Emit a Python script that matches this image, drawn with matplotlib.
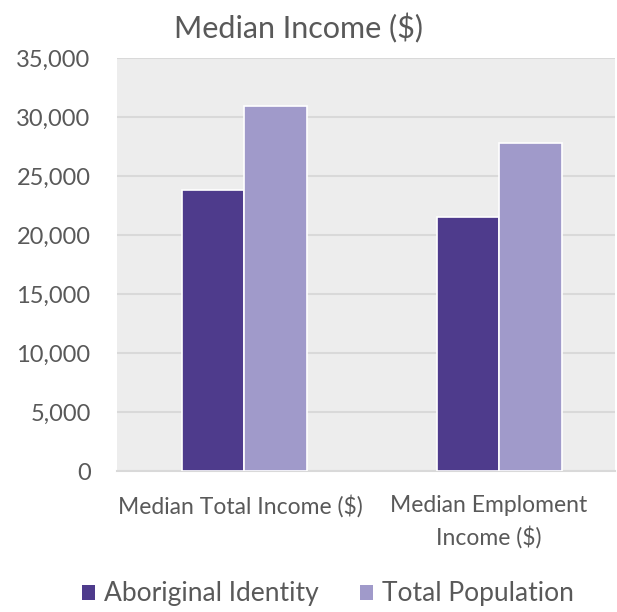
import matplotlib
matplotlib.use("Agg")
import matplotlib.pyplot as plt
import matplotlib.transforms as mtransforms
import numpy as np
from matplotlib.ticker import FuncFormatter
from matplotlib.patches import Patch

categories = ["Median Total Income ($)", "Median Emploment\nIncome ($)"]
series_names = ["Aboriginal Identity", "Total Population"]
aboriginal = [23800, 21500]
total_pop = [30900, 27800]
colors = ["#4e3b8c", "#a09aca"]

plt.rcParams['font.family'] = ['Lato', 'DejaVu Sans']
txt = "#595959"

fig = plt.figure(figsize=(6.17, 6.12), dpi=100)
ax = fig.add_axes([117/617, (612-471)/612, 498/617, 413/612])
ax.set_facecolor("#ededed")

x = np.arange(len(categories))
w = 0.245
ax.bar(x - w/2, aboriginal, w, color=colors[0], edgecolor="white", linewidth=1.2, zorder=3)
ax.bar(x + w/2, total_pop, w, color=colors[1], edgecolor="white", linewidth=1.2, zorder=3)

ax.set_ylim(0, 35000)
ax.set_xlim(-0.5, 1.453)
ax.set_yticks(np.arange(0, 35001, 5000))
ax.yaxis.set_major_formatter(FuncFormatter(lambda v, p: f"{int(v):,}"))
ax.set_xticks(x)
ax.set_xticklabels(categories, linespacing=1.55)
ax.grid(axis="y", color="#d9d9d9", linewidth=1.5, zorder=0)
ax.set_axisbelow(True)
for s in ["left", "right", "top"]:
    ax.spines[s].set_visible(False)
ax.spines["bottom"].set_color("#d9d9d9")
ax.spines["bottom"].set_linewidth(1.5)
ax.tick_params(axis="both", length=0, colors=txt)
ax.tick_params(axis="y", labelsize=17, pad=19)
ax.tick_params(axis="x", labelsize=16.5, pad=17)
for lbl in ax.get_yticklabels():
    lbl.set_color(txt)
for lbl, dx in zip(ax.get_xticklabels(), [-4, -11]):
    lbl.set_transform(lbl.get_transform() + mtransforms.ScaledTranslation(dx/100, 0, fig.dpi_scale_trans))

fig.text(299/617, 1 - 28/612, "Median Income ($)", ha="center", va="center",
         fontsize=22, color=txt)

handles = [Patch(facecolor=c, edgecolor="none") for c in colors]
fig.legend(handles, series_names, loc="center", bbox_to_anchor=(328/617, 1 - 594/612),
           ncol=2, frameon=False, fontsize=19, labelcolor=txt,
           handlelength=0.5, handleheight=0.5, handletextpad=0.35, columnspacing=1.55)

fig.savefig("out.png", dpi=100, facecolor="white")
